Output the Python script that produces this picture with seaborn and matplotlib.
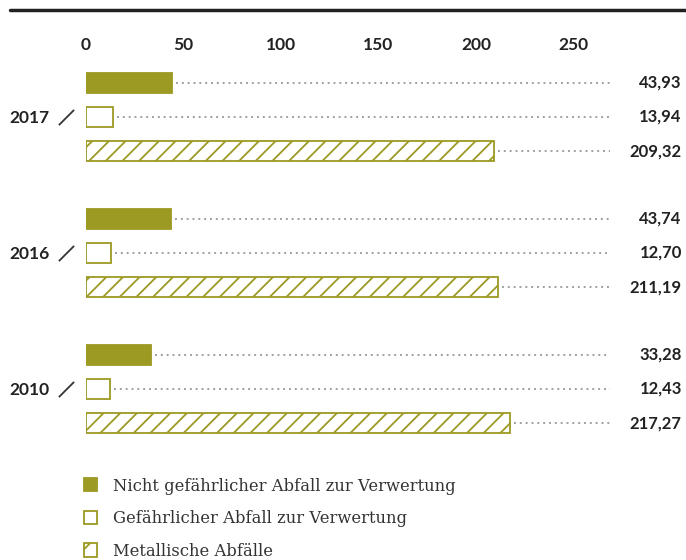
import pandas as pd
import seaborn as sb
import matplotlib.pyplot as plt
from matplotlib.patches import Patch
from matplotlib.lines import Line2D
from matplotlib.transforms import blended_transform_factory

# data
years = ["2017", "2016", "2010"]
types = ["Nicht gefährlicher Abfall zur Verwertung",
         "Gefährlicher Abfall zur Verwertung",
         "Metallische Abfälle"]
nicht_gefaehrlich = [43.93, 43.74, 33.28]
gefaehrlich = [13.94, 12.70, 12.43]
metallisch = [209.32, 211.19, 217.27]
x_ticks = [0, 50, 100, 150, 200, 250]

olive = "#9c9a22"

rows = []
for i, y in enumerate(years):
    rows.append({"Jahr": y, "Art": types[0], "Wert": nicht_gefaehrlich[i]})
    rows.append({"Jahr": y, "Art": types[1], "Wert": gefaehrlich[i]})
    rows.append({"Jahr": y, "Art": types[2], "Wert": metallisch[i]})
df = pd.DataFrame(rows)

sb.set_style("white")
plt.rcParams["font.family"] = ["Lato", "DejaVu Sans"]
plt.rcParams["hatch.color"] = olive
plt.rcParams["hatch.linewidth"] = 1.3

fig = plt.figure(figsize=(6.86, 5.6), dpi=100)
ax = fig.add_axes([86 / 686, 1 - 440 / 560, 600 / 686, 380 / 560])

sb.barplot(data=df, x="Wert", y="Jahr", hue="Art", order=years, hue_order=types,
           orient="h", width=0.76, gap=0.42, palette=[olive] * 3, legend=False, ax=ax)

fills = [olive, "white", "white"]
hatches = [None, None, "//"]
line_end = 268.7
for k, cont in enumerate(ax.containers):
    for bar, val in zip(cont, [nicht_gefaehrlich, gefaehrlich, metallisch][k]):
        bar.set_facecolor(fills[k])
        bar.set_edgecolor(olive)
        bar.set_linewidth(1.3)
        if hatches[k]:
            bar.set_hatch(hatches[k])
        yc = bar.get_y() + bar.get_height() / 2
        ax.plot([bar.get_width() + 2, line_end], [yc, yc], color="#a0a0a0",
                linestyle=(0, (1, 2)), linewidth=1.4)
        ax.annotate(f"{val:.2f}".replace(".", ","), xy=(1.0, yc),
                    xycoords=("axes fraction", "data"), xytext=(-3, 0),
                    textcoords="offset points", ha="right", va="center",
                    fontsize=12, fontweight="bold", color="#222222")

ax.set_xlim(0, 307.7)
ax.set_ylim(2.375, -0.419)
ax.xaxis.tick_top()
ax.set_xticks(x_ticks)
ax.set_xticklabels([str(t) for t in x_ticks], fontsize=12.5, fontweight="bold", color="#222222")
ax.set_yticks(range(len(years)))
ax.set_yticklabels(years, fontsize=12.5, fontweight="bold", color="#222222")
ax.tick_params(axis="x", length=0, pad=5)
ax.tick_params(axis="y", length=0, pad=26)
ax.set_xlabel("")
ax.set_ylabel("")
for s in ax.spines.values():
    s.set_visible(False)

# slash next to each year
trans = blended_transform_factory(ax.transAxes, ax.transData)
for i in range(len(years)):
    ax.plot([-20 / 600], [i], marker=[(-1, -1), (1, 1)], markersize=11,
            markeredgewidth=1.3, color="#333333", transform=trans, clip_on=False)

# thick line on top
fig.add_artist(Line2D([10 / 686, 1.0], [1 - 10 / 560, 1 - 10 / 560], color="#222222", linewidth=2.5))

handles = [Patch(facecolor=olive, edgecolor=olive, linewidth=1.3),
           Patch(facecolor="white", edgecolor=olive, linewidth=1.3),
           Patch(facecolor="white", edgecolor=olive, linewidth=1.3, hatch="/")]
fig.legend(handles, types, loc="upper left", bbox_to_anchor=(77 / 686, 1 - 471 / 560),
           frameon=False, handlelength=0.85, handleheight=0.85, handletextpad=0.95,
           labelspacing=0.95, borderaxespad=0,
           prop={"family": "DejaVu Serif", "size": 11.8}, labelcolor="#333333")

fig.savefig("out.png", dpi=100)
